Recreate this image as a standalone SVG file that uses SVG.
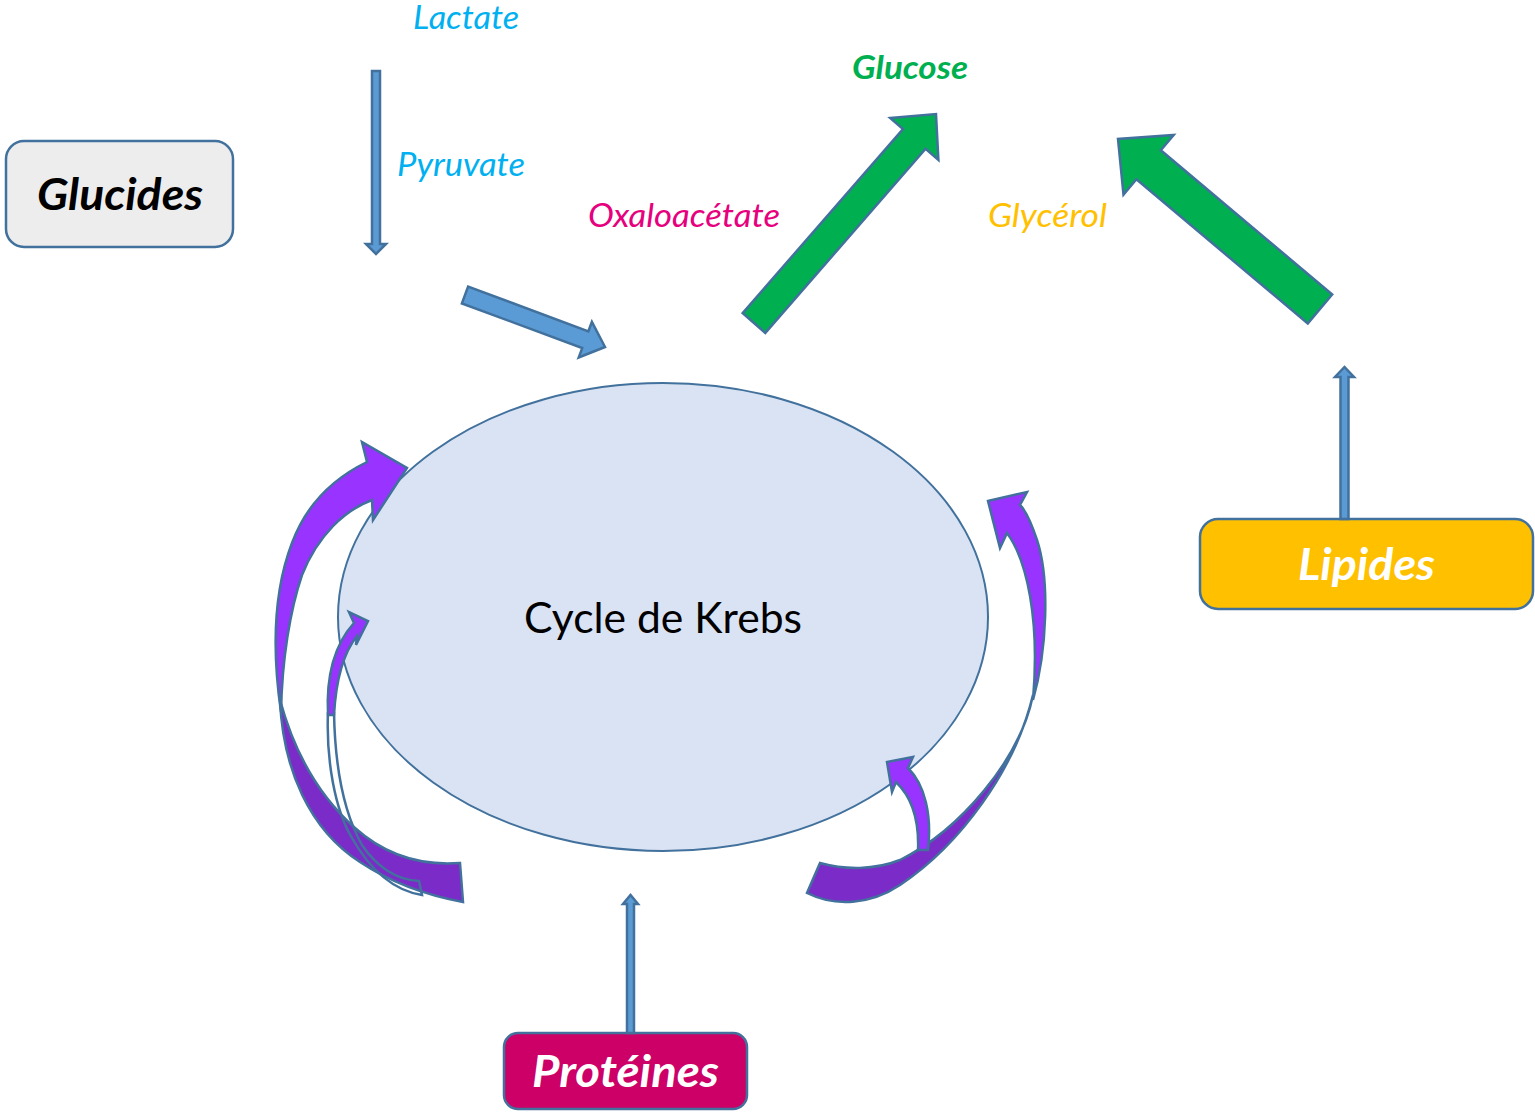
<svg xmlns="http://www.w3.org/2000/svg" width="1535" height="1112" viewBox="0 0 1535 1112">
  <style>
    text { font-family: "Lato", "Carlito", "Liberation Sans", sans-serif; }
    .lbl { font-size: 32px; font-style: italic; }
    .box-txt { font-size: 43px; font-style: italic; font-weight: bold; }
    .edge { stroke: #41719C; stroke-width: 2.5; stroke-linejoin: miter; }
    .blue { fill: #5B9BD5; }
    .green { fill: #00B050; }
    .violet { fill: #9933FF; }
    .violet-dk { fill: #7B2BC8; }
  </style>

  <!-- Krebs cycle -->
  <g id="krebs">
    <ellipse cx="663" cy="617" rx="325" ry="234" fill="#DAE3F3" stroke="#41719C" stroke-width="2"/>
    <text x="524" y="633" font-size="42" fill="#000" textLength="278" lengthAdjust="spacingAndGlyphs">Cycle de Krebs</text>
  </g>

  <!-- source boxes -->
  <g id="glucides">
    <rect x="6" y="141" width="227" height="106" rx="18" fill="#EDEDED" class="edge"/>
    <text x="37" y="210" class="box-txt" fill="#000" textLength="166" lengthAdjust="spacingAndGlyphs">Glucides</text>
  </g>
  <g id="lipides">
    <rect x="1200" y="519" width="333" height="90" rx="18" fill="#FFC000" class="edge"/>
    <text x="1298" y="580" class="box-txt" fill="#FFF" textLength="137" lengthAdjust="spacingAndGlyphs">Lipides</text>
  </g>
  <g id="proteines">
    <rect x="504" y="1033" width="243" height="76" rx="14" fill="#CC0066" class="edge"/>
    <text x="532" y="1087" class="box-txt" fill="#FFF" textLength="187" lengthAdjust="spacingAndGlyphs">Protéines</text>
  </g>

  <!-- metabolite labels -->
  <g id="labels">
    <text x="413" y="29" class="lbl" fill="#00B0F0" textLength="106" lengthAdjust="spacingAndGlyphs">Lactate</text>
    <text x="397" y="176" class="lbl" fill="#00B0F0" textLength="128" lengthAdjust="spacingAndGlyphs">Pyruvate</text>
    <text x="588" y="227" class="lbl" fill="#E6007E" textLength="192" lengthAdjust="spacingAndGlyphs">Oxaloacétate</text>
    <text x="852" y="79" class="lbl" font-weight="bold" fill="#00B050" textLength="116" lengthAdjust="spacingAndGlyphs">Glucose</text>
    <text x="988" y="227" class="lbl" fill="#FFC000" textLength="119" lengthAdjust="spacingAndGlyphs">Glycérol</text>
  </g>

  <!-- connectors -->
  <g id="connectors">
    <!-- lactate to pyruvate -->
    <polygon class="blue edge" stroke-width="2" points="372,71 380,71 380,244 386,244 376,254 366,244 372,244"/>
    <!-- pyruvate into the cycle -->
    <polygon class="blue edge" points="461.9,303.4 468.1,286.6 588.4,331.3 591.9,321.9 605,347 578.7,357.5 582.2,348.1"/>
    <!-- oxaloacetate to glucose -->
    <polygon class="green edge" points="742.7,313.1 903,129 890.2,117.9 936,114 938.4,159.9 925.6,148.8 765.3,332.9"/>
    <!-- glycerol to glucose -->
    <polygon class="green edge" points="1332.2,294.5 1160.8,150.3 1173.7,135 1118,139 1123.5,194.6 1136.4,179.3 1307.8,323.5"/>
    <!-- lipides up -->
    <polygon class="blue edge" stroke-width="2" points="1340.5,519 1340.5,377 1335,377 1344.5,367 1354,377 1348.5,377 1348.5,519"/>
    <!-- proteines up -->
    <polygon class="blue edge" stroke-width="2" points="627,1033 627,904 623,904 630.5,895 638,904 634,904 634,1033"/>

    <!-- left curved arrows -->
    <path class="violet-dk edge" d="M 280,700 C 283,770 310,830 360,862 C 390,882 425,895 463,902 L 460,863 C 420,866 385,855 355,828 C 320,797 295,755 280,700 Z"/>
    <path class="violet edge" d="M 281,712 C 272,650 274,590 292,543 C 305,508 330,480 367,462 L 362,442 L 407,468 L 373,520 L 372,500 C 345,510 318,535 302,575 C 290,610 282,660 281,712 Z"/>
    <path fill="none" class="edge" d="M 328,712 C 326,760 335,810 352,838 C 368,866 390,890 422,895 L 419,881 C 396,880 376,866 362,845 C 345,815 335,770 334,712"/>
    <path class="violet edge" d="M 328,715 C 326,675 334,645 354,623 L 349,612 L 368,621 L 356,645 L 357,636 C 344,652 336,680 334,715 Z"/>

    <!-- right curved arrows -->
    <path class="violet-dk edge" d="M 1033,695 C 1020,760 960,830 900,860 C 875,870 845,870 820,863 L 807,893 C 835,907 870,905 900,885 C 960,845 1015,770 1033,695 Z"/>
    <path class="violet edge" d="M 1033,700 C 1047,650 1050,580 1037,540 C 1032,525 1027,512 1020,505 L 1027,492 L 988,501 L 1000,548 L 1007,533 C 1027,560 1040,620 1033,700 Z"/>
    <path class="violet edge" d="M 918,850 C 919,825 915,800 896,782 L 892,792 L 887,762 L 913,757 L 908,768 C 925,785 932,815 928,850 Z"/>
  </g>
</svg>
